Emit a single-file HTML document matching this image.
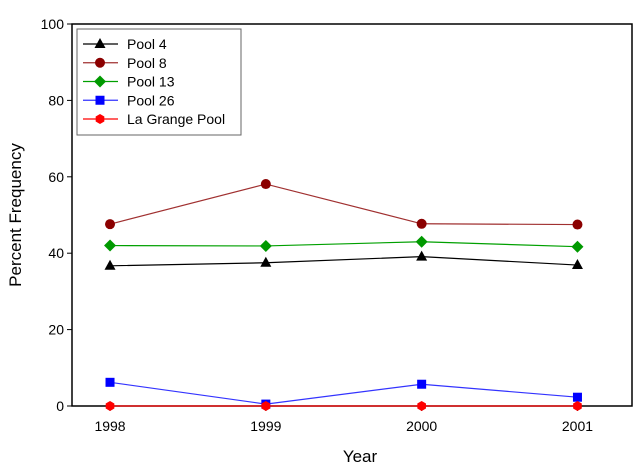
<!DOCTYPE html>
<html><head><meta charset="utf-8"><style>body{margin:0;background:#fff}svg{display:block;font-family:"Liberation Sans",sans-serif}</style></head>
<body>
<svg id="chart" width="640" height="473"></svg>
<script>
const years=[1998,1999,2000,2001];
const pool4=[36.7,37.5,39.1,36.9];
const pool8=[47.6,58.1,47.7,47.5];
const pool13=[42.0,41.9,43.0,41.7];
const pool26=[6.2,0.5,5.7,2.3];
const laGrange=[0,0,0,0];
const yTicks=[0,20,40,60,80,100];
const seriesNames=["Pool 4","Pool 8","Pool 13","Pool 26","La Grange Pool"];
const NS="http://www.w3.org/2000/svg";
const svg=document.getElementById('chart');
const L=72,R=632,T=24,B=406;
const xS=v=>L+(v-1997.756)/(2001.35-1997.756)*(R-L);
const yS=v=>B-v/100*(B-T);
function mk(tag,at,parent){const e=document.createElementNS(NS,tag);for(const k in at)e.setAttribute(k,at[k]);(parent||svg).appendChild(e);return e;}
const frame=mk('rect',{x:L,y:T,width:R-L,height:B-T,fill:'none',stroke:'#000','stroke-width':1.5});


yTicks.forEach(v=>{
 const t=mk('line',{x1:L-5,x2:L,y1:yS(v),y2:yS(v),stroke:'#000'});
 
 
 const tx=mk('text',{x:L-8,y:yS(v)+5,'text-anchor':'end','font-size':14});
 tx.textContent=v;
 
 
});
years.forEach(v=>{
 const t=mk('line',{x1:xS(v),x2:xS(v),y1:B,y2:B+5,stroke:'#000'});
 
 
 const tx=mk('text',{x:xS(v),y:B+25,'text-anchor':'middle','font-size':14});
 tx.textContent=v;
 
 
});
const xt=mk('text',{x:(L+R)/2+8,y:462,'text-anchor':'middle','font-size':17});
xt.textContent='Year';


const yt=mk('text',{x:0,y:0,'text-anchor':'middle','font-size':17,transform:'translate(21,215) rotate(-90)'});
yt.textContent='Percent Frequency';


function marker(shape,x,y,fill,g){
 if(shape==='tri')return mk('polygon',{points:`${x},${y-6} ${x-5.5},${y+4} ${x+5.5},${y+4}`,fill},g);
 if(shape==='circ')return mk('circle',{cx:x,cy:y,r:5,fill},g);
 if(shape==='dia')return mk('polygon',{points:`${x},${y-6} ${x+6},${y} ${x},${y+6} ${x-6},${y}`,fill},g);
 if(shape==='sq')return mk('rect',{x:x-4.5,y:y-4.5,width:9,height:9,fill},g);
 return mk('polygon',{points:[0,1,2,3,4,5].map(i=>{const a=Math.PI/3*i+Math.PI/6;return (x+5*Math.cos(a))+','+(y+5*Math.sin(a));}).join(' '),fill},g);
}
const series=[[pool4,'#000','#000','tri'],[pool8,'#8b0000','#a03030','circ'],[pool13,'#009900','#00a000','dia'],[pool26,'#0000ff','#3333ff','sq'],[laGrange,'#ff0000','#ff0000','hex']];
series.forEach((s,i)=>{
 const g=mk('g',{});
 
 
 mk('polyline',{points:years.map((y,j)=>xS(y)+','+yS(s[0][j])).join(' '),fill:'none',stroke:s[2],'stroke-width':1.2},g);
 years.forEach((y,j)=>{const m=marker(s[3],xS(y),yS(s[0][j]),s[1],g);
  
  });
});
const lg=mk('g',{});


mk('rect',{x:77,y:29,width:164,height:106,fill:'#fff',stroke:'#666','stroke-width':1},lg);
series.forEach((s,i)=>{
 const y=44+i*18.75;
 const e=mk('g',{},lg);
 
 
 mk('line',{x1:83,x2:118,y1:y,y2:y,stroke:s[2],'stroke-width':1.2},e);
 marker(s[3],100,y,s[1],e);
 const t=mk('text',{x:127,y:y+5,'font-size':14},e);
 t.textContent=seriesNames[i];
});
</script>
</body></html>
